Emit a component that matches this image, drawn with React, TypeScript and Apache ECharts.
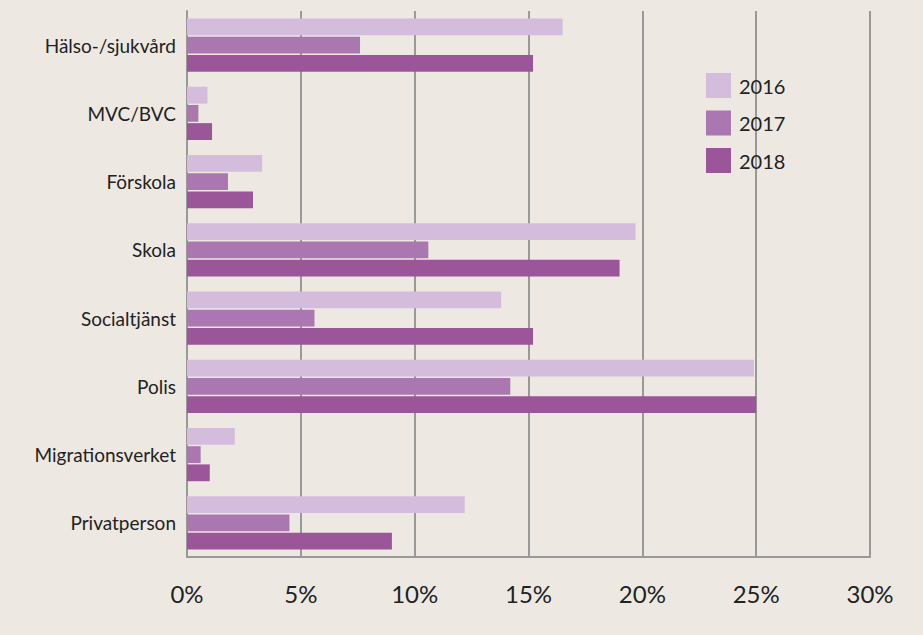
import React, { useEffect, useRef } from "react";
import * as echarts from "echarts";

const categories = [
  "Hälso-/sjukvård",
  "MVC/BVC",
  "Förskola",
  "Skola",
  "Socialtjänst",
  "Polis",
  "Migrationsverket",
  "Privatperson",
];
const years = ["2016", "2017", "2018"];
const values2016 = [16.5, 0.9, 3.3, 19.7, 13.8, 24.9, 2.1, 12.2];
const values2017 = [7.6, 0.5, 1.8, 10.6, 5.6, 14.2, 0.6, 4.5];
const values2018 = [15.2, 1.1, 2.9, 19.0, 15.2, 25.0, 1.0, 9.0];
const colors = ["#d4bcdc", "#aa77b0", "#9b5599"];

export default function App() {
  const ref = useRef<HTMLDivElement>(null);
  useEffect(() => {
    if (!ref.current) return;
    const chart = echarts.init(ref.current, undefined, { renderer: "svg" });
    const data = [values2016, values2017, values2018];
    chart.setOption({
      animation: false,
      backgroundColor: "#ede9e2",
      textStyle: { fontFamily: "Lato" },
      grid: { left: 187, right: 53, top: 11, bottom: 78 },
      legend: {
        orient: "vertical",
        left: 706,
        top: 73,
        padding: 0,
        itemWidth: 25,
        itemHeight: 25,
        itemGap: 12.5,
        icon: "rect",
        textStyle: { fontSize: 20, color: "#222", fontFamily: "Lato", padding: [0, 0, 0, 3] },
        data: years,
      },
      xAxis: {
        type: "value",
        min: 0,
        max: 30,
        interval: 5,
        axisLine: { show: true, lineStyle: { color: "#999", width: 2 } },
        axisTick: { show: false },
        axisLabel: { formatter: "{value}%", fontSize: 24, color: "#222", margin: 24 },
        splitLine: { show: true, lineStyle: { color: "#999", width: 2 } },
      },
      yAxis: {
        type: "category",
        data: categories,
        inverse: true,
        axisLine: { show: true, lineStyle: { color: "#999", width: 2 } },
        axisTick: { show: false },
        axisLabel: { fontSize: 19, color: "#222", margin: 11 },
      },
      series: years.map((y, i) => ({
        name: y,
        type: "bar",
        data: data[i],
        itemStyle: { color: colors[i] },
        barGap: "8%",
        barCategoryGap: "22%",
      })),
    });
    return () => chart.dispose();
  }, []);
  return (
    <div
      ref={ref}
      style={{ position: "fixed", left: 0, top: 0, width: 923, height: 635 }}
    />
  );
}
